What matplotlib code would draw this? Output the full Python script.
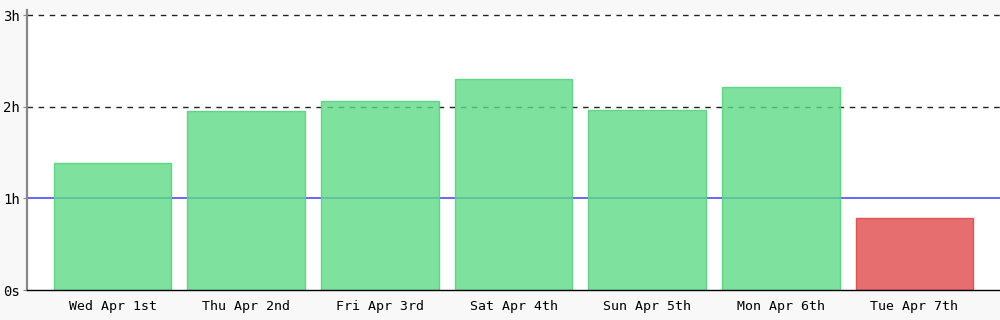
import matplotlib
matplotlib.use('Agg')
import matplotlib.pyplot as plt

days = ['Wed Apr 1st', 'Thu Apr 2nd', 'Fri Apr 3rd', 'Sat Apr 4th',
        'Sun Apr 5th', 'Mon Apr 6th', 'Tue Apr 7th']
hours = [1.385, 1.95, 2.06, 2.30, 1.96, 2.22, 0.785]
goal = 1.0
ytick_vals = [0, 1, 2, 3]
ytick_labels = ['0s', '1h', '2h', '3h']

plt.rcParams['font.family'] = ['DejaVu Sans Mono']

fig = plt.figure(figsize=(10, 3.2), dpi=100, facecolor='#f8f8f8')
# axes from y=14 px to y=290 px, x from 27 px to the right edge
ax = fig.add_axes([0.027, 30 / 320, 0.973, 276 / 320])
ax.set_facecolor('white')

for y in [2, 3]:
	ax.axhline(y, color='#222222', lw=1, ls=(0, (4, 4)), zorder=1, clip_on=False)
ax.axhline(goal, color='#4d4dff', lw=1.2, zorder=1)

colors = []
edges = []
for h in hours:
	if h >= goal:
		colors.append((94/255, 219/255, 134/255, 0.8))
		edges.append((85/255, 210/255, 125/255, 0.9))
	else:
		colors.append((226/255, 74/255, 74/255, 0.8))
		edges.append((220/255, 75/255, 75/255, 0.9))

x = list(range(len(days)))
ax.bar(x, hours, width=0.88, color=colors, edgecolor=edges, linewidth=1, zorder=2)

ax.set_xlim(-0.64, len(days) - 1 + 0.64)
ax.set_ylim(0, 3.011)
ax.set_xticks(x)
ax.set_xticklabels(days, fontsize=9.5)
ax.set_yticks(ytick_vals)
ax.set_yticklabels(ytick_labels, fontsize=10)

ax.spines['top'].set_visible(False)
ax.spines['right'].set_visible(False)
ax.spines['left'].set_color('#888888')
ax.spines['left'].set_linewidth(1.6)
ax.spines['left'].set_bounds(0, 3.055)
ax.spines['bottom'].set_color('black')
ax.spines['bottom'].set_linewidth(1)
ax.spines['bottom'].set_zorder(3)
ax.tick_params(axis='x', length=0, pad=7)
ax.tick_params(axis='y', length=3, color='#888888', pad=2)

fig.savefig('out.png', dpi=100, facecolor=fig.get_facecolor())
